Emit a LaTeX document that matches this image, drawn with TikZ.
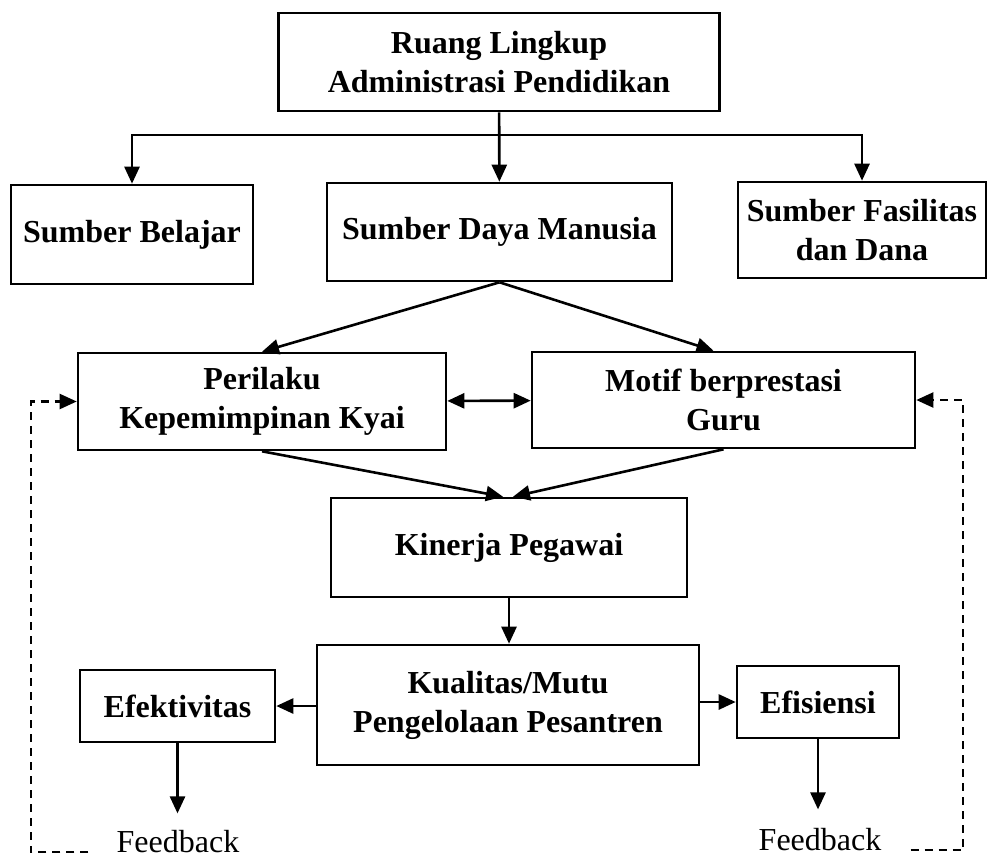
\documentclass[tikz,border=0pt]{standalone}
\usepackage{fontspec}
\setmainfont{Liberation Serif}
\usepackage{tikz}
\usetikzlibrary{arrows.meta,positioning,calc}

\begin{document}
\begin{tikzpicture}[
  x=0.5pt, y=-0.5pt,
  box/.style={
    draw, line width=1.3pt, align=center, inner sep=2pt,
    font=\bfseries\fontsize{16}{19.5}\selectfont
  },
  arr/.style={-{Triangle[length=8.5pt,width=7.5pt]},line width=1.3pt},
  dbl/.style={{Triangle[length=8.5pt,width=7.5pt]}-{Triangle[length=8.5pt,width=7.5pt]},line width=1.3pt},
  fb/.style={-{Triangle[length=8.5pt,width=7.5pt]},line width=1.1pt,dash pattern=on 4pt off 3pt},
  note/.style={font=\fontsize{16}{19.5}\selectfont, inner sep=3pt, anchor=base},
]
\useasboundingbox (0,0) rectangle (988,856);

\node[box,minimum width=220.5pt,minimum height=49pt] (ruang) at (499,62) {Ruang Lingkup\\Administrasi Pendidikan};
\node[box,minimum width=121pt,minimum height=49.5pt] (belajar) at (132,234.5) {Sumber Belajar};
\node[box,minimum width=172.5pt,minimum height=49pt] (sdm) at (499.5,232) {Sumber Daya Manusia};
\node[box,minimum width=124pt,minimum height=48pt] (dana) at (862,230) {Sumber Fasilitas\\dan Dana};
\node[box,minimum width=184pt,minimum height=48.5pt] (kyai) at (262,401.5) {Perilaku\\Kepemimpinan Kyai};
\node[box,minimum width=191.5pt,minimum height=48pt] (guru) at (723.5,400) {Motif berprestasi\\Guru};
\node[box,minimum width=178pt,minimum height=49.5pt] (kinerja) at (509,547.5) {Kinerja Pegawai};
\node[box,minimum width=191pt,minimum height=60pt] (mutu) at (508,705) {Kualitas/Mutu\\Pengelolaan Pesantren};
\node[box,minimum width=97.5pt,minimum height=36pt] (efek) at (177.5,706) {Efektivitas};
\node[box,minimum width=81pt,minimum height=36pt] (efis) at (818,702) {Efisiensi};
\node[note] (fb1) at (178,852) {Feedback};
\node[note] (fb2) at (820,850) {Feedback};

% ruang lingkup
\coordinate (bus) at (499,135);
\draw[arr] (ruang) -- (sdm);
\draw[arr] (bus) -| (belajar);
\draw[arr] (bus) -| (dana);

% sdm ke variabel
\draw[arr] (sdm.south) -- (kyai.north);
\draw[arr] (sdm.south) -- ([xshift=-5pt]guru.north);
\draw[dbl] (kyai) -- (guru);
\draw[arr] (kyai.south) -- ([xshift=-3pt]kinerja.north);
\draw[arr] (guru.south) -- ([xshift=2pt]kinerja.north);

% hasil
\draw[arr] (kinerja) -- (kinerja |- mutu.north);
\draw[arr] (mutu.west |- efek) -- (efek);
\draw[arr] (mutu.east |- efis) -- (efis);
\draw[arr,shorten >=5pt] (efek) -- (efek |- fb1.north);
\draw[arr,shorten >=6pt] (efis) -- (efis |- fb2.north);

% feedback
\draw[fb] ([xshift=-11pt]fb1.base west) -| ([xshift=-23pt]kyai.west) -- (kyai.west);
\draw[fb] ([xshift=11.5pt]fb2.base east) -| ([xshift=23.5pt]guru.east) -- (guru.east);
\end{tikzpicture}
\end{document}
